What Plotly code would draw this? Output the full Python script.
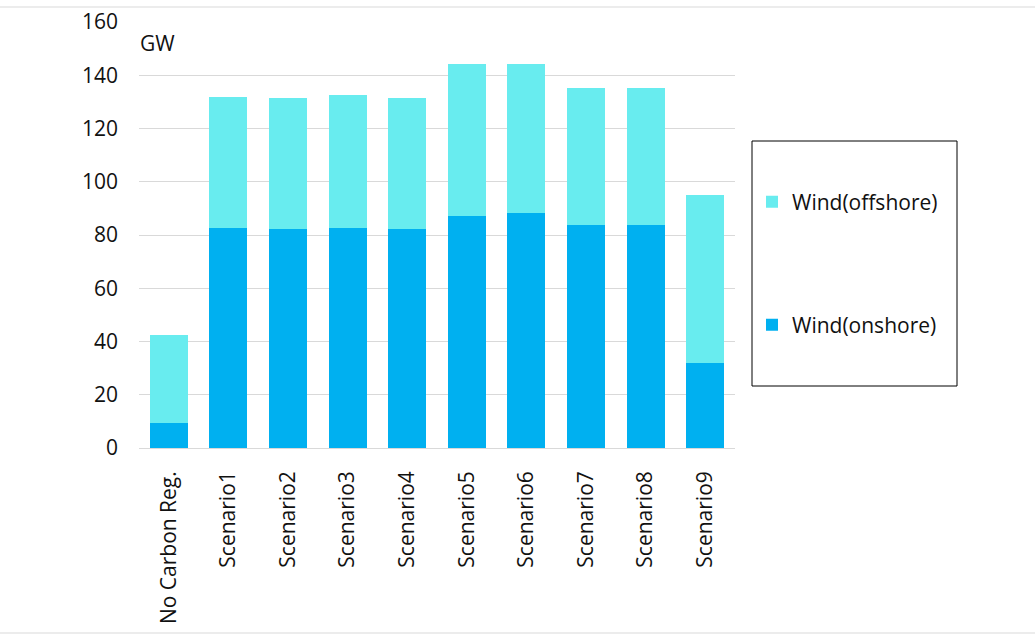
import plotly.graph_objects as go

categories = ["No Carbon Reg.", "Scenario1", "Scenario2", "Scenario3", "Scenario4",
              "Scenario5", "Scenario6", "Scenario7", "Scenario8", "Scenario9"]
onshore = [9.4, 82.6, 82.1, 82.6, 82.1, 87.1, 88.1, 83.8, 83.8, 31.9]
offshore = [33.0, 49.3, 49.4, 49.9, 49.4, 57.2, 56.2, 51.4, 51.4, 63.0]
y_ticks = [0, 20, 40, 60, 80, 100, 120, 140, 160]

W, H = 1035, 635
L, R, T, B = 139, 300, 22, 187
pw, ph = W - L - R, H - T - B

def px(x):
    return (x - L) / pw

def py(y):
    return (H - B - y) / ph

FONT = "Open Sans"
TXT = "#111111"
FS = 21

fig = go.Figure()
fig.add_trace(go.Bar(x=categories, y=onshore, name="Wind(onshore)",
                     marker=dict(color="#00B0F0", line=dict(width=0)),
                     legend="legend2", showlegend=True))
fig.add_trace(go.Bar(x=categories, y=offshore, name="Wind(offshore)",
                     marker=dict(color="#68ECEF", line=dict(width=0)),
                     legend="legend", showlegend=True))

shapes = [
    dict(type="rect", xref="paper", yref="paper",
         x0=px(752), x1=px(957), y0=py(386), y1=py(141),
         line=dict(color="#000000", width=1), fillcolor="rgba(0,0,0,0)"),
    dict(type="line", xref="paper", yref="paper",
         x0=px(0), x1=px(W), y0=py(7), y1=py(7),
         line=dict(color="#D9D9D9", width=1)),
    dict(type="line", xref="paper", yref="paper",
         x0=px(0), x1=px(W), y0=py(633), y1=py(633),
         line=dict(color="#D9D9D9", width=1)),
]

fig.update_layout(
    width=W, height=H,
    margin=dict(l=L, r=R, t=T, b=B, autoexpand=False),
    barmode="stack",
    bargap=0.36,
    showlegend=True,
    paper_bgcolor="white",
    plot_bgcolor="white",
    font=dict(family=FONT, size=FS, color=TXT),
    shapes=shapes,
    legend=dict(x=px(752), xanchor="left", y=py(202), yanchor="middle",
                bgcolor="rgba(0,0,0,0)", borderwidth=0, itemwidth=30,
                font=dict(family=FONT, size=FS, color=TXT)),
    legend2=dict(x=px(752), xanchor="left", y=py(325), yanchor="middle",
                 bgcolor="rgba(0,0,0,0)", borderwidth=0, itemwidth=30,
                 font=dict(family=FONT, size=FS, color=TXT)),
    annotations=[dict(text="GW", xref="paper", yref="paper",
                      x=px(138), y=py(43), xanchor="left", yanchor="middle",
                      showarrow=False, font=dict(family=FONT, size=FS, color=TXT))],
    xaxis=dict(tickangle=-90, showgrid=False, showline=False, ticks="", automargin=False,
               ticklabelstandoff=18, tickfont=dict(family=FONT, size=FS, color=TXT)),
    yaxis=dict(range=[0, 160], tickvals=y_ticks, showgrid=True, gridcolor="#D9D9D9",
               gridwidth=1, zeroline=True, zerolinecolor="#D9D9D9", zerolinewidth=1,
               showline=False, ticks="", ticklabelstandoff=20, automargin=False,
               tickfont=dict(family=FONT, size=FS, color=TXT)),
)

fig.write_html("out.html")
